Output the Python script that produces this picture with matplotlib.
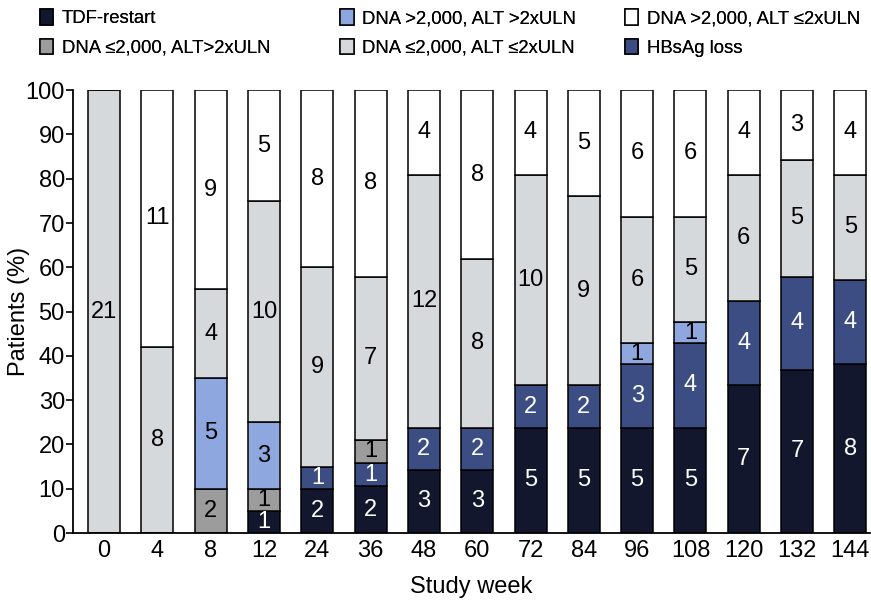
import numpy as np
import matplotlib.pyplot as plt
from matplotlib.patches import Patch

plt.rcParams['font.family'] = ['Liberation Sans', 'DejaVu Sans']

weeks = ['0', '4', '8', '12', '24', '36', '48', '60', '72', '84', '96', '108', '120', '132', '144']

# patient counts per category, bottom to top of each stack
tdf_restart = [0, 0, 0, 1, 2, 2, 3, 3, 5, 5, 5, 5, 7, 7, 8]
hbsag_loss = [0, 0, 0, 0, 1, 1, 2, 2, 2, 2, 3, 4, 4, 4, 4]
low_dna_high_alt = [0, 0, 2, 1, 0, 1, 0, 0, 0, 0, 0, 0, 0, 0, 0]
high_dna_high_alt = [0, 0, 5, 3, 0, 0, 0, 0, 0, 0, 1, 1, 0, 0, 0]
low_dna_low_alt = [21, 8, 4, 10, 9, 7, 12, 8, 10, 9, 6, 5, 6, 5, 5]
high_dna_low_alt = [0, 11, 9, 5, 8, 8, 4, 8, 4, 5, 6, 6, 4, 3, 4]

series = [
    ('TDF-restart', tdf_restart, '#13172e', 'white'),
    ('HBsAg loss', hbsag_loss, '#3b4d82', 'white'),
    ('DNA \u22642,000, ALT>2xULN', low_dna_high_alt, '#9c9c9c', 'black'),
    ('DNA >2,000, ALT >2xULN', high_dna_high_alt, '#8fa7df', 'black'),
    ('DNA \u22642,000, ALT \u22642xULN', low_dna_low_alt, '#d6d9dc', 'black'),
    ('DNA >2,000, ALT \u22642xULN', high_dna_low_alt, '#ffffff', 'black'),
]

counts = np.array([s[1] for s in series], dtype=float)
totals = counts.sum(axis=0)
pct = counts / totals * 100

fig = plt.figure(figsize=(8.71, 6.01), dpi=100)
ax = fig.add_axes([0.084, 0.113, 0.915, 0.737])

x = np.arange(len(weeks))
bottom = np.zeros(len(weeks))
for (name, vals, col, tcol), p in zip(series, pct):
    ax.bar(x, p, 0.6, bottom=bottom, color=col, edgecolor='black', linewidth=1.1, label=name)
    for i in range(len(weeks)):
        if vals[i] > 0:
            ax.text(x[i], bottom[i] + p[i] / 2, str(vals[i]), ha='center', va='center',
                    fontsize=17, color=tcol)
    bottom += p

ax.set_xlim(-0.58, 14.37)
ax.set_ylim(0, 100)
ax.set_yticks(range(0, 101, 10))
ax.set_xticks(x)
ax.set_xticklabels(weeks)
ax.tick_params(axis='x', length=0, labelsize=17, pad=5)
ax.tick_params(axis='y', length=5, width=1.2, labelsize=17, pad=1)
for s in ['top', 'right']:
    ax.spines[s].set_visible(False)
for s in ['left', 'bottom']:
    ax.spines[s].set_linewidth(1.3)
ax.set_xlabel('Study week', fontsize=17, labelpad=10)
ax.set_ylabel('Patients (%)', fontsize=17)
ax.yaxis.set_label_coords(-0.054, 0.5)

# legend: three columns placed separately, two entries each
leg_cols = [[0, 2], [3, 4], [5, 1]]
leg_x = [0.0264, 0.371, 0.698]
for cols, lx in zip(leg_cols, leg_x):
    handles = [Patch(facecolor=series[k][2], edgecolor='black', linewidth=1.1, label=series[k][0])
               for k in cols]
    leg = fig.legend(handles=handles, loc='upper left', bbox_to_anchor=(lx, 1.012),
                     frameon=False, fontsize=13.3, handlelength=0.75, handleheight=0.9,
                     handletextpad=0.45, labelspacing=0.6)
    fig.add_artist(leg)

fig.savefig('out.png', dpi=100)
